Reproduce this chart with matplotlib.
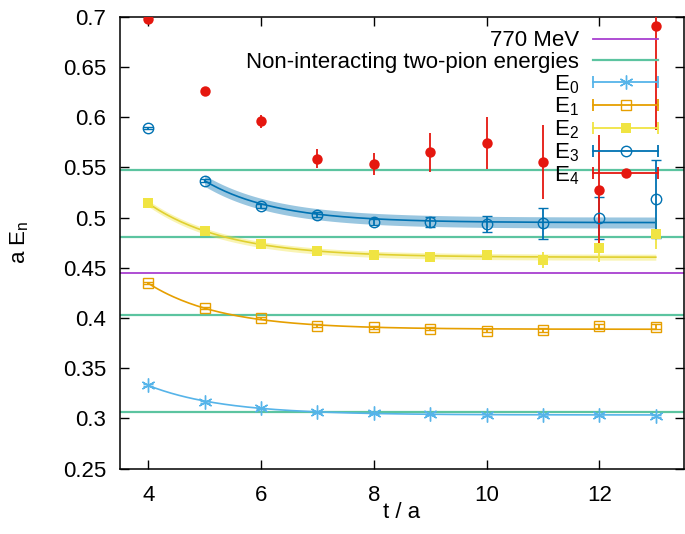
import numpy as np
import matplotlib
matplotlib.use("Agg")
import matplotlib.pyplot as plt
from matplotlib.lines import Line2D
from matplotlib.legend_handler import HandlerLine2D, HandlerTuple

plt.rcParams['font.family'] = ['Liberation Sans', 'DejaVu Sans']
plt.rcParams['mathtext.fontset'] = 'custom'
plt.rcParams['mathtext.rm'] = 'Liberation Sans'
plt.rcParams['mathtext.it'] = 'Liberation Sans:italic'
FS = 16
plt.rcParams['font.size'] = FS

# ---------------- data ----------------
t = [4, 5, 6, 7, 8, 9, 10, 11, 12, 13]

e0 = [0.3329, 0.3167, 0.3101, 0.3067, 0.3051, 0.3041, 0.3037, 0.3034, 0.3034, 0.3024]
e0_err = [0.001, 0.0008, 0.0008, 0.0008, 0.0008, 0.0008, 0.0009, 0.001, 0.001, 0.0012]
e1 = [0.4346, 0.4097, 0.3997, 0.3924, 0.3908, 0.3891, 0.3874, 0.3881, 0.3921, 0.3911]
e1_err = [0.001, 0.001, 0.001, 0.0012, 0.0013, 0.0015, 0.0017, 0.002, 0.0022, 0.0025]
e2 = [0.5142, 0.4866, 0.4734, 0.4667, 0.4624, 0.4604, 0.4624, 0.458, 0.4694, 0.4833]
e2_err = [0.0015, 0.0015, 0.002, 0.002, 0.0025, 0.003, 0.003, 0.0078, 0.014, 0.015]
e3 = [0.5895, 0.5367, 0.5118, 0.5026, 0.4959, 0.4959, 0.4934, 0.4943, 0.4993, 0.5188]
e3_err = [0.001, 0.0015, 0.002, 0.0025, 0.003, 0.005, 0.0081, 0.0156, 0.021, 0.039]
e4 = [0.698, 0.6256, 0.596, 0.5585, 0.553, 0.565, 0.574, 0.555, 0.5274, 0.6904]
e4_err = [0.002, 0.003, 0.0065, 0.0095, 0.011, 0.0195, 0.026, 0.0367, 0.055, 0.103]

rho_770 = 0.4445
two_pion = [0.3063, 0.4033, 0.4807, 0.5474]

# fit curves: E(t) = plateau + amp * exp(-decay * (t - t_start))
fit_start = [4, 4, 4, 5]
fit_end = [13, 13, 13, 13]
fit_plateau = [0.3035, 0.3888, 0.4605, 0.4950]
fit_amp = [0.0294, 0.0458, 0.0537, 0.0417]
fit_decay = [0.75, 0.78, 0.72, 0.80]
fit_band = [0.0, 0.0, 0.003, 0.0055]

labels = ['E$_0$', 'E$_1$', 'E$_2$', 'E$_3$', 'E$_4$']
colors = ['#56b4e9', '#e69f00', '#f0e442', '#0072b2', '#e5170f']

# ---------------- figure ----------------
fig = plt.figure(figsize=(6.85, 5.34), dpi=100)
ax = fig.add_axes([120 / 685, 1 - 468.7 / 534, 564 / 685, 452 / 534])

ax.axhline(rho_770, color='#a83fd0', lw=1.3, zorder=1)
for v in two_pion:
    ax.axhline(v, color='#5cc4a0', lw=1.6, zorder=1)

# fits
for i in range(4):
    tt = np.linspace(fit_start[i], fit_end[i], 200)
    yy = fit_plateau[i] + fit_amp[i] * np.exp(-fit_decay[i] * (tt - fit_start[i]))
    c = colors[i]
    if fit_band[i] > 0:
        ax.fill_between(tt, yy - fit_band[i], yy + fit_band[i], color=c,
                        alpha=0.4, lw=0, zorder=2)
    lc = '#e0d030' if i == 2 else c
    ax.plot(tt, yy, color=lc, lw=1.2, zorder=3)

ms = 7.5
common = dict(capsize=3.3, elinewidth=1.3, capthick=1.3, ls='none', zorder=4)
series = [e0, e1, e2, e3, e4]
errs = [e0_err, e1_err, e2_err, e3_err, e4_err]
mk = [dict(marker=(6, 2, 0), ms=10, mew=1.0),
      dict(marker='s', ms=ms, mfc='none', mew=1.0),
      dict(marker='s', ms=ms, mew=0),
      dict(marker='o', ms=ms, mfc='none', mew=1.0),
      dict(marker='o', ms=ms, mew=0)]
for i in range(5):
    ax.errorbar(t, series[i], yerr=errs[i], color=colors[i], **common, **mk[i])

ax.set_xlim(3.5, 13.5)
ax.set_ylim(0.25, 0.7)
ax.set_xticks([4, 6, 8, 10, 12])
ax.set_yticks(np.arange(0.25, 0.701, 0.05))
ax.set_yticklabels(['0.25', '0.3', '0.35', '0.4', '0.45', '0.5', '0.55', '0.6', '0.65', '0.7'])
ax.tick_params(direction='in', length=6.5, width=1.0, top=True, right=True,
               labelsize=FS)
ax.tick_params(axis='y', pad=10)
ax.tick_params(axis='x', pad=12)
for s in ax.spines.values():
    s.set_linewidth(1.1)
ax.set_xlabel('t / a', fontsize=FS)
ax.set_ylabel('a E$_\\mathrm{n}$', fontsize=FS)
ax.xaxis.set_label_coords(0.5, (468.7 - 502) / 452)
ax.yaxis.set_label_coords((31 - 120) / 564, 0.5)

# legend
handles = [Line2D([], [], color='#a83fd0', lw=1.3),
           Line2D([], [], color='#5cc4a0', lw=1.6)]
hmap = {}
for i in range(5):
    capline = Line2D([], [], color=colors[i], lw=1.3, marker='|', ms=8, mew=1.3)
    mline = Line2D([], [], color=colors[i], ls='none', **mk[i])
    hmap[capline] = HandlerLine2D(numpoints=2, marker_pad=0.0)
    hmap[mline] = HandlerLine2D(numpoints=1)
    handles.append((capline, mline))
hmap[tuple] = HandlerTuple(ndivide=1, pad=0)
leg_labels = ['770 MeV', 'Non-interacting two-pion energies'] + labels
leg = ax.legend(handles, leg_labels, handler_map=hmap, loc='upper right',
                bbox_to_anchor=((658 - 120) / 564, (468.7 - 30.5) / 452),
                frameon=False, markerfirst=False, borderpad=0, borderaxespad=0,
                handlelength=65 / (FS * 100 / 72), handletextpad=14 / (FS * 100 / 72),
                labelspacing=0.01, fontsize=FS)
for ttext in leg.get_texts():
    ttext.set_ha('right')

fig.savefig('out.png', dpi=100)
